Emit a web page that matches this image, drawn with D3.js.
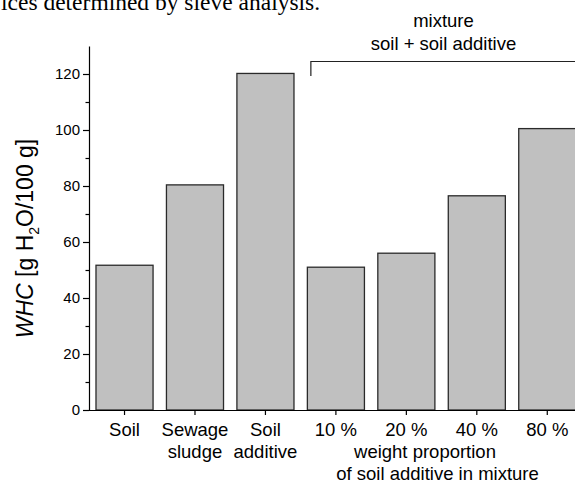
<!DOCTYPE html>
<html>
<head>
<meta charset="utf-8">
<script src="https://cdn.jsdelivr.net/npm/d3@7"></script>
<style>
  body { margin: 0; background: #fff; }
  svg { display: block; font-family: Arial, "Liberation Sans", sans-serif; }
</style>
</head>
<body>
<div id="chart"></div>
<script>

// data
var categories = ["Soil", "Sewage sludge", "Soil additive", "10 %", "20 %", "40 %", "80 %"];
var categoryLines = [["Soil"], ["Sewage", "sludge"], ["Soil", "additive"], ["10 %"], ["20 %"], ["40 %"], ["80 %"]];
var whcValues = [51.7, 80.4, 120.2, 51.0, 56.0, 76.5, 100.5];
var yMajorTicks = [0, 20, 40, 60, 80, 100, 120];
var yMinorTicks = [10, 30, 50, 70, 90, 110];

var WIDTH = 575,
  HEIGHT = 484;

var svg = d3.select("#chart")
  .append("svg")
  .attr("width", WIDTH)
  .attr("height", HEIGHT);

// page text above the figure, cut off at the top like in the scan
svg.append("text")
  .attr("x", 1)
  .attr("y", 10)
  .style("font-family", "'Liberation Serif', 'Times New Roman', serif")
  .style("font-size", "23.5px")
  .text("ices determined by sieve analysis.");

var x = d3.scaleBand()
  .domain(categories)
  .range([89.3, 582.5])
  .paddingInner(0.19)
  .paddingOuter(0.095);

var y = d3.scaleLinear()
  .domain([0, 130])
  .range([410, 46]);

// bars
svg.selectAll(".bar")
  .data(whcValues)
  .enter()
  .append("rect")
  .attr("class", "bar")
  .attr("x", function(d, i) { return x(categories[i]); })
  .attr("y", function(d) { return y(d); })
  .attr("width", x.bandwidth())
  .attr("height", function(d) { return y(0) - y(d); })
  .style("fill", "#c0c0c0")
  .style("stroke", "#2a2a2a")
  .style("stroke-width", 1.3);

// y axis, major then minor ticks
var yAxis = svg.append("g")
  .attr("transform", "translate(89,0)")
  .call(d3.axisLeft(y).tickValues(yMajorTicks).tickSize(6).tickSizeOuter(0).tickPadding(3));
yAxis.selectAll("text").style("font-size", "15px").style("fill", "#000");

svg.append("g")
  .attr("transform", "translate(89,0)")
  .call(d3.axisLeft(y).tickValues(yMinorTicks).tickSize(3.5).tickFormat(""))
  .select(".domain").remove();

// x axis, labels drawn by hand below (multi line)
var xAxis = svg.append("g")
  .attr("transform", "translate(0,410)")
  .call(d3.axisBottom(x).tickSize(5).tickSizeOuter(0).tickFormat(""));
xAxis.select(".domain").attr("d", "M89,0.5H" + WIDTH);

svg.selectAll(".domain, .tick line").style("stroke", "#000").style("stroke-width", 1.2);

var catLabel = svg.selectAll(".cat-label")
  .data(categoryLines)
  .enter()
  .append("text")
  .attr("class", "cat-label")
  .attr("text-anchor", "middle")
  .style("font-size", "18.5px");

catLabel.selectAll("tspan")
  .data(function(d, i) { return d.map(function(line) { return {line: line, cat: categories[i]}; }); })
  .enter()
  .append("tspan")
  .attr("x", function(d) { return x(d.cat) + x.bandwidth() / 2; })
  .attr("y", function(d, j) { return 436 + j * 22; })
  .text(function(d) { return d.line; });

// note under the mixture bars
svg.append("text")
  .attr("x", 425)
  .attr("y", 458)
  .attr("text-anchor", "middle")
  .style("font-size", "18.5px")
  .text("weight proportion");
svg.append("text")
  .attr("x", 437.5)
  .attr("y", 480)
  .attr("text-anchor", "middle")
  .style("font-size", "18.5px")
  .text("of soil additive in mixture");

// bracket over the mixture bars
var bracketLeft = x("10 %") + 3.5;
svg.append("path")
  .attr("d", "M" + bracketLeft + ",76V61.5H" + (WIDTH + 5))
  .style("fill", "none")
  .style("stroke", "#222")
  .style("stroke-width", 1.2);

svg.append("text")
  .attr("x", 443.5)
  .attr("y", 27)
  .attr("text-anchor", "middle")
  .style("font-size", "18.5px")
  .text("mixture");
svg.append("text")
  .attr("x", 443.5)
  .attr("y", 50)
  .attr("text-anchor", "middle")
  .style("font-size", "18.5px")
  .text("soil + soil additive");

// y axis title with subscript
var title = svg.append("text")
  .attr("transform", "translate(33,238.5) rotate(-90)")
  .attr("text-anchor", "middle")
  .style("font-size", "23px");
title.append("tspan").style("font-style", "italic").text("WHC");
title.append("tspan").text(" [g H");
title.append("tspan").attr("dy", 6).style("font-size", "14px").text("2");
title.append("tspan").attr("dy", -6).text("O/100 g]");

</script>
</body>
</html>
